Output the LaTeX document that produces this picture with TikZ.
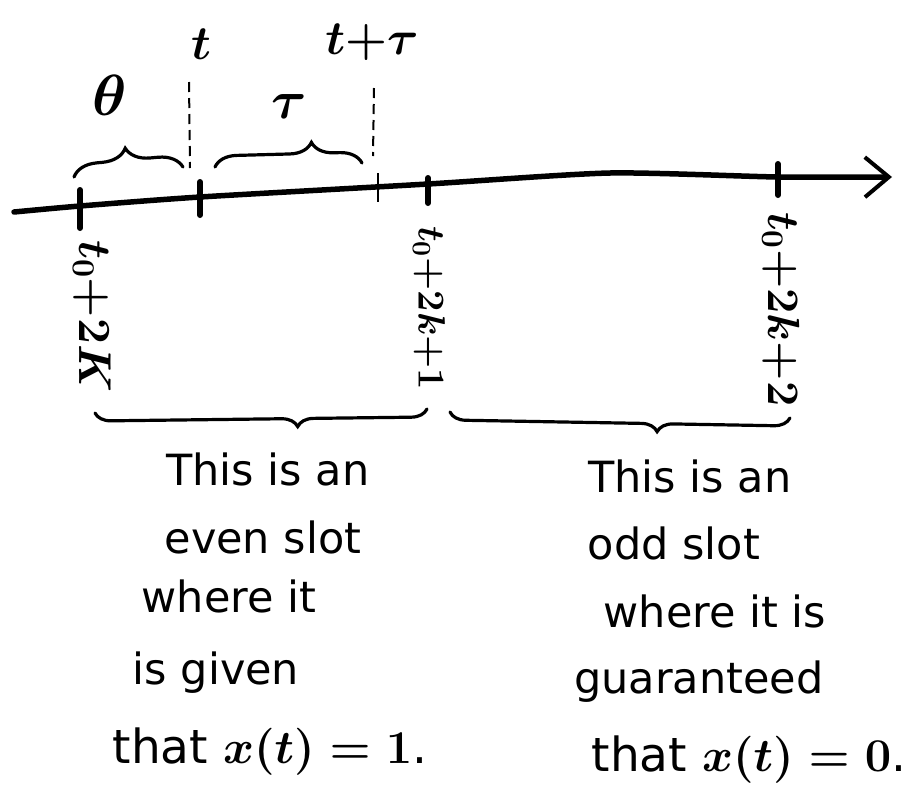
\RequirePackage{fix-cm}
\documentclass[tikz,border=0pt]{standalone}
\usepackage{fontspec}
\setmainfont{DejaVu Sans}
\usetikzlibrary{arrows.meta,decorations.pathreplacing}
\tikzset{
  axisline/.style={line width=5.5pt, line cap=round, -{Straight Barb[length=24pt,width=40pt,line width=4pt]}},
  tickmark/.style={line width=6pt, line cap=round},
  thintick/.style={line width=2.6pt},
  guide/.style={line width=2pt, dash pattern=on 10pt off 6pt},
  bracepath/.style={line width=3.2pt, line cap=round, decorate},
  lbl/.style={inner sep=0pt, font=\fontsize{48}{56}\selectfont\boldmath},
  vlbl/.style={inner sep=0pt, rotate=-90, anchor=west, font=\fontsize{38}{44}\selectfont\boldmath},
  txt/.style={inner sep=0pt, font=\fontsize{43}{50}\selectfont\boldmath}
}
\begin{document}
\begin{tikzpicture}[x=1pt,y=-1pt]
\useasboundingbox (0,0) rectangle (914,804);
% axis points
\coordinate (s) at (14,212);
\coordinate (k0) at (80,206);
\coordinate (k1) at (200,197);
\coordinate (k2) at (377,188);
\coordinate (k3) at (428,184);
\coordinate (m) at (610,173);
\coordinate (k4) at (778,177);
\coordinate (e) at (892,177);
\draw[axisline] plot[smooth, tension=0.4] coordinates {(s) (k0) (k1) (k3) (m) (k4) (e)};
% ticks
\draw[tickmark] (80,190) -- (80,228);
\draw[tickmark] (200,182) -- (200,215);
\draw[thintick] (378,173) -- (378,202);
\draw[tickmark] (428,178) -- (428,203);
\draw[tickmark] (778,164) -- (778,195);
% dashed guides
\draw[guide] (189,82) -- (190,168);
\draw[guide] (374,88) -- (373,156);
% top labels
\node[lbl] (tl) at (201,44) {$t$};
\node[lbl] (ttl) at (372,42) {$t{+}\tau$};
\node[lbl, font=\fontsize{58}{64}\selectfont\boldmath] (th) at (110,95) {$\theta$};
\node[lbl, font=\fontsize{54}{60}\selectfont\boldmath] (ta) at (289,106) {$\tau$};
% upper braces
\draw[bracepath, decoration={brace, amplitude=24pt, aspect=0.49}] (74,177) -- (183,167);
\draw[bracepath, decoration={brace, amplitude=22pt, aspect=0.66}] (215,167) -- (362,163);
% vertical labels
\node[vlbl, font=\fontsize{46}{52}\selectfont\boldmath] (l0) at (92,240) {$t_0{+}2K$};
\node[vlbl] (l1) at (429,226) {$t_0{+}2k{+}1$};
\node[vlbl, font=\fontsize{45}{52}\selectfont\boldmath] (l2) at (781,212) {$t_0{+}2k{+}2$};
% lower braces
\draw[bracepath, decoration={brace, mirror, amplitude=16pt, aspect=0.61}] (95,413) -- (427,409);
\draw[bracepath, decoration={brace, mirror, amplitude=16pt, aspect=0.61}] (450,412) -- (790,418);
% left text block
\node[txt] (a1) at (268,469) {This is an};
\node[txt] (a2) at (263,537) {even slot};
\node[txt] (a3) at (229,596) {where it};
\node[txt] (a4) at (216,673) {is given};
\node[txt, font=\fontsize{47}{54}\selectfont\boldmath] (a5) at (270,752) {that $x(t)=1$.};
% right text block
\node[txt] (b1) at (690,476) {This is an};
\node[txt] (b2) at (674,543) {odd slot};
\node[txt] (b3) at (715,611) {where it is};
\node[txt] (b4) at (699,682) {guaranteed};
\node[txt, font=\fontsize{47}{54}\selectfont\boldmath] (b5) at (749,760) {that $x(t)=0$.};
\end{tikzpicture}
\end{document}
